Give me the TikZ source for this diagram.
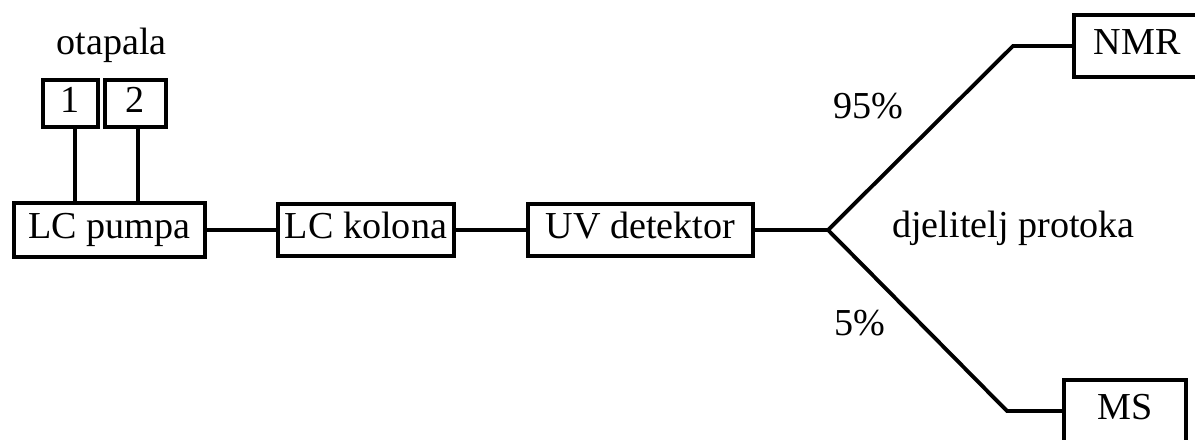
\documentclass[tikz,border=0pt]{standalone}
\usepackage{fontspec}
\setmainfont{Liberation Serif}
\tikzset{
  blok/.style={draw, line width=2.2pt, inner sep=0pt, text height=14.8pt, text depth=4.8pt},
  veza/.style={line width=2.2pt}
}
\begin{document}
\begin{tikzpicture}[x=0.02cm, y=-0.02cm, font=\fontsize{21.7}{26}\selectfont]
\path[use as bounding box, clip] (0,0) rectangle (1195,439);
% otapala
\node[anchor=base] (otapala) at (111.5,55) {otapala};
\node[blok, minimum width=1.10cm, minimum height=0.94cm] (b1) at (70.5,103.5) {1};
\node[blok, minimum width=1.22cm, minimum height=0.94cm] (b2) at (135.5,103.5) {2};
% glavni niz
\node[blok, minimum width=3.82cm, minimum height=1.08cm] (pump) at (109.5,230) {LC pumpa};
\node[blok, minimum width=3.52cm, minimum height=1.04cm] (kolona) at (366,230) {LC kolona};
\node[blok, minimum width=4.50cm, minimum height=1.04cm] (uv) at (640.5,230) {UV detektor};
\node[blok, minimum width=2.52cm, minimum height=1.24cm] (nmr) at (1137,46) {NMR};
\node[blok, minimum width=2.44cm, minimum height=1.24cm] (ms) at (1125,411) {MS};
\coordinate (split) at (828,230);
\coordinate (gore) at (1013,46);
\coordinate (dolje) at (1007,411);
% veze
\draw[veza] ([xshift=0.09cm]b1.south) -- ([xshift=0.09cm]b1.south |- pump.north);
\draw[veza] ([xshift=0.05cm]b2.south) -- ([xshift=0.05cm]b2.south |- pump.north);
\draw[veza] (pump) -- (kolona);
\draw[veza] (kolona) -- (uv);
\draw[veza] (uv) -- (split) -- (gore) -- (nmr);
\draw[veza] (split) -- (dolje) -- (ms);
% natpisi
\node[anchor=base] (p95) at (868,118) {95\%};
\node[anchor=base] (p5) at (860,335) {5\%};
\node[anchor=base] (djelitelj) at (1013.5,237) {djelitelj protoka};
\end{tikzpicture}
\end{document}
